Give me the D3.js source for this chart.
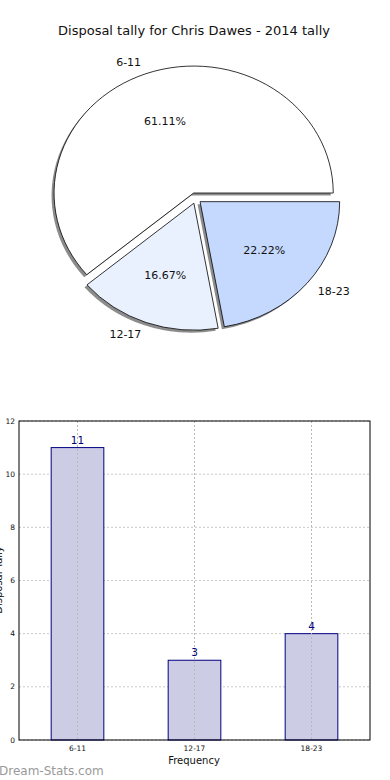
<!DOCTYPE html>
<html>
<head>
<meta charset="utf-8">
<script src="https://cdnjs.cloudflare.com/ajax/libs/d3/7.8.5/d3.min.js"></script>
<style>
  html, body { margin: 0; padding: 0; background: #fff; }
  svg { display: block; font-family: "DejaVu Sans", sans-serif; }
</style>
</head>
<body>
<div class="vis"></div>
<script>
// data
const categories = ['6-11', '12-17', '18-23'];
const tally = [11, 3, 4];
const pieColors = ['#ffffff', '#eaf1fe', '#c5d9fe'];
const explode = [0.045, 0.04, 0.04];
const yTicks = [0, 2, 4, 6, 8, 10, 12];

const W = 390, H = 780;
const svg = d3.select('.vis').append('svg')
    .attr('width', W)
    .attr('height', H);

// ---- pie (matplotlib style, stretched to an ellipse) ----
svg.append('text')
    .attr('x', 194).attr('y', 35)
    .attr('text-anchor', 'middle')
    .attr('font-size', 13)
    .attr('fill', '#111')
    .text('Disposal tally for Chris Dawes - 2014 tally');

const cx = 195.8, cy = 198.4, rx = 139.6, ry = 127;
const total = d3.sum(tally);

// start at 3 o'clock, go counter-clockwise
const pie = d3.pie().sort(null).startAngle(Math.PI / 2).endAngle(Math.PI / 2 - 2 * Math.PI);
const arcs = pie(tally);
const arc = d3.arc().innerRadius(0).outerRadius(1);

const wedges = svg.append('g');
arcs.forEach(function (a, i) {
    // mid angle in math convention (ccw from +x)
    const theta = Math.PI / 2 - (a.startAngle + a.endAngle) / 2;
    const ox = explode[i] * Math.cos(theta) * rx;
    const oy = -explode[i] * Math.sin(theta) * ry;
    a.theta = theta; a.ox = ox; a.oy = oy;

    // shadow
    wedges.append('path')
        .attr('d', arc(a))
        .attr('transform', 'translate(' + (cx + ox - 2.5) + ',' + (cy + oy + 2.5) + ') scale(' + rx + ',' + ry + ')')
        .attr('fill', '#000')
        .attr('fill-opacity', 0.45);
});
arcs.forEach(function (a, i) {
    wedges.append('path')
        .attr('d', arc(a))
        .attr('transform', 'translate(' + (cx + a.ox) + ',' + (cy + a.oy) + ') scale(' + rx + ',' + ry + ')')
        .attr('fill', pieColors[i])
        .attr('stroke', '#000')
        .attr('stroke-width', 0.8)
        .attr('vector-effect', 'non-scaling-stroke');
});
arcs.forEach(function (a, i) {
    const c = Math.cos(a.theta), s = Math.sin(a.theta);
    // category label
    svg.append('text')
        .attr('x', cx + a.ox + 1.1 * c * rx)
        .attr('y', cy + a.oy - 1.1 * s * ry)
        .attr('dy', '0.35em')
        .attr('text-anchor', c < 0 ? 'end' : 'start')
        .attr('font-size', 11)
        .attr('fill', '#111')
        .text(categories[i]);
    // percentage
    svg.append('text')
        .attr('x', cx + a.ox + 0.6 * c * rx)
        .attr('y', cy + a.oy - 0.6 * s * ry)
        .attr('dy', '0.35em')
        .attr('text-anchor', 'middle')
        .attr('font-size', 11)
        .attr('fill', '#111')
        .text(d3.format('.2f')(tally[i] / total * 100) + '%');
});

// ---- bar chart ----
const plotLeft = 19, plotRight = 370, plotTop = 421, plotBottom = 740;
const x = d3.scaleBand().domain(categories).range([plotLeft, plotRight])
    .paddingInner(0.55).paddingOuter(0.275);
const y = d3.scaleLinear().domain([0, 12]).range([plotBottom, plotTop]);

const bars = svg.append('g');

// grid
bars.selectAll('.hgrid').data(yTicks).enter().append('line')
    .attr('x1', plotLeft).attr('x2', plotRight)
    .attr('y1', d => y(d)).attr('y2', d => y(d))
    .attr('stroke', '#c8c8c8').attr('stroke-width', 1)
    .attr('stroke-dasharray', '2,2');

bars.selectAll('.bar').data(categories).enter().append('rect')
    .attr('x', d => x(d))
    .attr('y', (d, i) => y(tally[i]))
    .attr('width', x.bandwidth())
    .attr('height', (d, i) => plotBottom - y(tally[i]))
    .attr('fill', '#ccccE5')
    .attr('stroke', '#000080')
    .attr('stroke-width', 1);

bars.selectAll('.vgrid').data(categories).enter().append('line')
    .attr('x1', d => x(d) + x.bandwidth() / 2).attr('x2', d => x(d) + x.bandwidth() / 2)
    .attr('y1', plotTop).attr('y2', plotBottom)
    .attr('stroke', '#b8b8b8').attr('stroke-width', 1)
    .attr('stroke-dasharray', '2,2');

// frame
bars.append('rect')
    .attr('x', plotLeft).attr('y', plotTop)
    .attr('width', plotRight - plotLeft).attr('height', plotBottom - plotTop)
    .attr('fill', 'none').attr('stroke', '#000').attr('stroke-width', 1);

// value labels
bars.selectAll('.val').data(categories).enter().append('text')
    .attr('x', d => x(d) + x.bandwidth() / 2)
    .attr('y', (d, i) => y(tally[i]) - 4)
    .attr('text-anchor', 'middle')
    .attr('font-size', 10.5)
    .attr('fill', '#000080')
    .text((d, i) => tally[i]);

// y ticks
bars.selectAll('.ytl').data(yTicks).enter().append('text')
    .attr('x', 15).attr('y', d => y(d))
    .attr('dy', '0.35em')
    .attr('text-anchor', 'end')
    .attr('font-size', 7.5)
    .attr('fill', '#111')
    .text(d => d);

// x ticks
bars.selectAll('.xtl').data(categories).enter().append('text')
    .attr('x', d => x(d) + x.bandwidth() / 2).attr('y', 751)
    .attr('text-anchor', 'middle')
    .attr('font-size', 7.5)
    .attr('fill', '#111')
    .text(d => d);

svg.append('text')
    .attr('x', 194).attr('y', 764)
    .attr('text-anchor', 'middle')
    .attr('font-size', 10)
    .attr('fill', '#111')
    .text('Frequency');

// y label (cut off at the page edge, as in the source image)
svg.append('text')
    .attr('transform', 'translate(2,580) rotate(-90)')
    .attr('text-anchor', 'middle')
    .attr('font-size', 10)
    .attr('fill', '#111')
    .text('Disposal Tally');

// watermark
svg.append('text')
    .attr('x', -1).attr('y', 775)
    .attr('font-size', 12)
    .attr('fill', '#9a9a9a')
    .text('Dream-Stats.com');
</script>
</body>
</html>
